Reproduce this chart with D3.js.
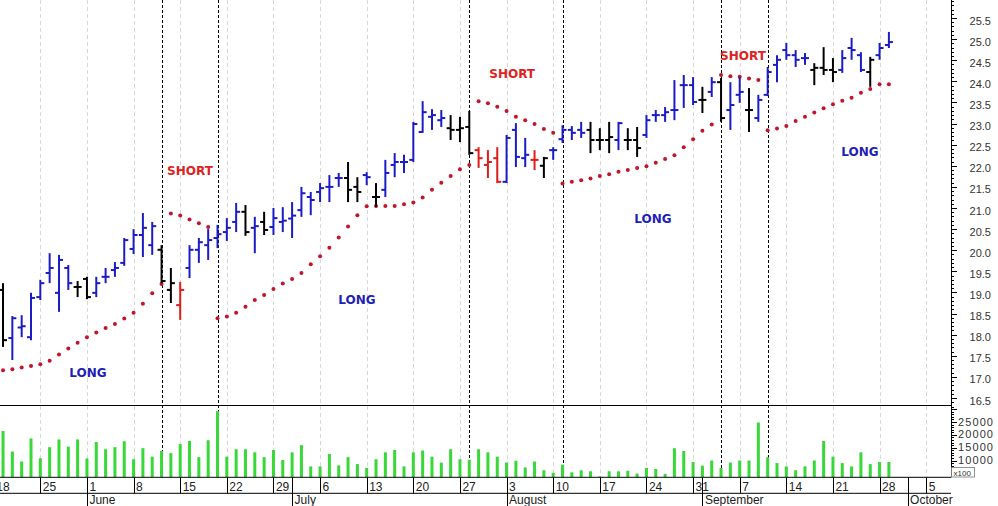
<!DOCTYPE html>
<html><head><meta charset="utf-8">
<script src="https://cdn.jsdelivr.net/npm/d3@7"></script>
<style>
body{margin:0;background:#fff}
svg{display:block}
text{font-family:Arial,"Liberation Sans",sans-serif}
.ann{font-family:"DejaVu Sans",Verdana,sans-serif;font-weight:bold;font-size:12px}
</style>
</head><body>
<svg id="chart" width="998" height="506"></svg>
<script>
// ---------------- DATA ----------------
const firstSession = "2009-05-19";
const lastSession  = "2009-09-29";
const axisStart    = "2009-05-18";
const axisEnd      = "2009-10-05";

const opens = [
19.06,17.92,18.17,17.94,18.89,19.46,18.99,19.58,19.13,19.32,
18.99,19.37,19.53,19.70,20.03,20.36,20.12,20.01,19.06,18.70,
19.58,20.01,20.12,20.29,20.43,20.67,20.91,20.53,20.67,20.55,
20.67,20.75,20.95,21.26,21.38,21.50,21.71,21.71,21.50,21.78,
21.26,21.43,22.02,22.09,22.14,22.80,23.16,23.08,22.89,22.85,
22.92,22.37,22.02,22.18,21.62,22.85,22.18,22.14,22.00,22.37,
22.63,22.85,22.85,22.85,22.61,22.61,22.61,22.61,22.61,22.73,
23.20,23.20,23.32,23.91,23.91,23.56,23.75,23.98,23.32,23.68,
23.32,23.13,23.68,24.39,24.74,24.62,24.55,24.27,24.32,24.27,
24.27,24.79,24.62,24.22,24.62,24.86];
const highs = [
19.22,18.44,18.46,18.99,19.30,19.93,19.89,19.65,19.27,19.37,
19.37,19.58,19.72,20.29,20.50,20.88,20.67,20.12,19.58,19.25,
20.12,20.29,20.50,20.60,20.76,21.12,21.07,20.79,20.91,21.00,
21.02,21.14,21.50,21.38,21.59,21.78,21.83,22.09,21.73,21.85,
21.59,22.14,22.30,22.26,23.04,23.53,23.34,23.32,23.20,23.16,
23.30,22.44,22.37,22.44,22.73,23.01,22.66,22.37,22.21,22.44,
22.96,22.94,23.04,23.04,22.89,23.04,23.04,22.89,22.92,23.20,
23.32,23.39,24.03,24.15,24.10,23.87,24.10,24.08,23.98,24.10,
23.84,23.68,24.34,24.62,24.91,24.74,24.67,24.43,24.81,24.55,
24.74,25.03,24.69,24.58,24.91,25.17];
const lows = [
17.71,17.40,17.94,17.87,18.82,19.22,18.54,19.06,18.89,18.84,
18.89,19.22,19.37,19.63,19.91,19.84,19.89,19.22,18.75,18.35,
19.34,19.70,19.77,20.05,20.22,20.43,20.34,19.93,20.36,20.36,
20.43,20.29,20.79,20.83,21.14,21.14,21.50,21.14,21.14,21.54,
21.02,21.26,21.73,21.83,22.09,22.78,22.85,22.92,22.61,22.56,
22.26,21.95,21.71,21.59,21.59,21.97,21.97,21.90,21.71,22.14,
22.54,22.61,22.66,22.30,22.37,22.30,22.37,22.37,22.21,22.66,
23.04,23.04,23.08,23.37,23.44,23.25,23.63,23.04,22.85,23.49,
22.80,23.04,23.65,23.98,24.51,24.34,24.39,23.91,24.15,23.98,
24.20,24.51,24.22,23.87,24.51,24.79];
const closes = [
17.87,18.39,18.20,18.87,19.22,19.58,19.77,19.22,19.13,18.89,
19.22,19.37,19.58,20.24,20.36,20.53,20.57,19.27,19.22,19.06,
20.01,20.19,20.24,20.38,20.53,20.91,20.43,20.57,20.48,20.76,
20.70,20.82,21.35,21.19,21.47,21.50,21.71,21.43,21.38,21.73,
21.26,21.83,22.09,22.09,22.99,23.27,23.20,23.13,22.85,22.89,
22.30,22.18,22.09,21.62,22.66,22.21,22.26,22.14,22.18,22.37,
22.85,22.78,22.78,22.61,22.61,22.68,23.01,22.61,22.42,23.08,
23.20,23.27,23.32,23.91,23.51,23.56,23.98,23.13,23.44,23.75,
23.32,23.56,24.22,24.51,24.62,24.51,24.55,24.32,24.27,24.22,
24.55,24.74,24.27,24.51,24.79,24.93];
// bar trend state: U = up (blue), D = down (red), N = neutral (black)
const barState = (
"NUUUUUUUNN"+"UUUUUUUNND"+"UUUUUUNUNU"+"UUUUUUUNNU"+"NUUUUUUUNN"+
"NDDDUUUDNU"+"UUUNNNUNNU"+"UUUUUNUNUU"+"NUUUUUUNNN"+"UUUNUU").split("");
const sar = [
17.16,17.18,17.22,17.26,17.30,17.38,17.53,17.67,17.81,17.94,
18.05,18.16,18.25,18.38,18.52,18.73,18.98,19.20,20.87,20.82,
20.73,20.64,20.55,18.39,18.43,18.52,18.66,18.82,18.94,19.08,
19.21,19.32,19.46,19.67,19.86,20.06,20.30,20.56,20.83,21.04,
21.05,21.05,21.05,21.09,21.13,21.25,21.43,21.60,21.76,21.92,
22.02,23.53,23.48,23.40,23.30,23.16,23.08,22.99,22.87,22.78,
21.58,21.62,21.66,21.70,21.76,21.80,21.86,21.90,21.95,21.99,
22.07,22.16,22.25,22.44,22.63,22.83,22.98,24.15,24.12,24.11,
24.07,24.03,22.84,22.88,22.94,23.06,23.16,23.26,23.36,23.46,
23.54,23.61,23.73,23.82,23.93,23.93];
const volume = [
21500,13500,9600,18600,10900,15200,18200,15400,18200,10800,
17200,14400,15200,17500,10500,14800,11500,13700,12900,16400,
17600,11300,17900,29200,11500,14400,14400,13200,11300,14100,
10200,13200,16000,7700,7700,12500,8100,11300,8600,7100,
10500,13200,14100,7700,13200,13900,11500,9200,14400,10500,
10300,14400,13200,11500,9200,9900,7300,9600,6200,5200,
8400,5400,6200,5800,3800,5800,5800,6000,4900,7100,
6700,4800,14800,13700,9400,8000,10000,7100,9200,10000,
10000,24800,11300,9000,7700,6200,7700,10000,17600,11500,
9000,7700,13200,8600,9400,9400];
const reversalDates = ["2009-06-11","2009-06-19","2009-07-28","2009-08-11","2009-09-03","2009-09-10"];
const annTexts    = ["LONG","SHORT","LONG","SHORT","LONG","SHORT","LONG"];
const annSession  = [10.1, 21.05, 38.96, 55.6, 70.7, 80.35, 92.9];   // session index from axisStart
const annPrice    = [17.09, 21.88, 18.82, 24.17, 20.74, 24.60, 22.33];
const priceLabels = d3.range(16.5, 25.51, 0.5);
const volumeLabels = [10000, 15000, 20000, 25000];

// ---------------- HELPERS ----------------
const parse = d3.timeParse("%Y-%m-%d");
const base = parse(axisStart);
function sessionIndex(d){ const days = d3.timeDay.count(base, d); return Math.floor(days/7)*5 + Math.min(days%7,5); }
const dates = d3.timeDay.range(parse(firstSession), d3.timeDay.offset(parse(lastSession),1))
  .filter(d => d.getDay()>0 && d.getDay()<6);
const bars = dates.map((d,i)=>({date:d, s:sessionIndex(d), o:opens[i], h:highs[i], l:lows[i], c:closes[i],
  st:barState[i], sar:sar[i], v:volume[i]}));

// ---------------- LAYOUT ----------------
const svg = d3.select("#chart");
const axisX = 951, priceBottom = 405, volBottom = 477.3, dayBottom = 493.3;
const x = d3.scaleLinear().domain([0,100]).range([-6.3, 926.2]);
const y = d3.scaleLinear().domain([16.5,25.5]).range([398,18]);
const yv = d3.scaleLinear().domain([10000,25000]).range([460.5,422]);
const colorOf = {U:"#1c1cc4", D:"#e01b1b", N:"#000"};

svg.append("defs").append("clipPath").attr("id","pclip").append("rect")
  .attr("x",0).attr("y",0).attr("width",axisX).attr("height",priceBottom);
svg.append("defs").append("clipPath").attr("id","vclip").append("rect")
  .attr("x",0).attr("y",priceBottom).attr("width",axisX).attr("height",volBottom-priceBottom);

const mondays = d3.timeMonday.range(base, d3.timeDay.offset(parse(axisEnd),1));
const monthStarts = d3.timeMonth.range(parse("2009-06-01"), d3.timeDay.offset(parse(axisEnd),1));
const px = d => Math.round(x(sessionIndex(d)))+0.5;

// gridlines
svg.append("g").selectAll("line").data(mondays).join("line")
  .attr("x1",px).attr("x2",px).attr("y1",0).attr("y2",volBottom)
  .attr("stroke","#d8d8d8").attr("stroke-dasharray","4,3").attr("stroke-width",1);

// reversal lines
svg.append("g").selectAll("line").data(reversalDates.map(parse)).join("line")
  .attr("x1",px).attr("x2",px).attr("y1",0).attr("y2",volBottom)
  .attr("stroke","#000").attr("stroke-dasharray","3,2").attr("stroke-width",1);

// price panel
const pg = svg.append("g").attr("clip-path","url(#pclip)");
pg.append("g").selectAll("circle").data(bars).join("circle")
  .attr("cx",d=>x(d.s)).attr("cy",d=>y(d.sar)).attr("r",2).attr("fill","#c4142b");
const bg = pg.append("g").selectAll("g").data(bars).join("g").attr("stroke",d=>colorOf[d.st]).attr("stroke-width",2);
bg.append("line").attr("x1",d=>x(d.s)).attr("x2",d=>x(d.s)).attr("y1",d=>y(d.h)).attr("y2",d=>y(d.l));
bg.append("line").attr("x1",d=>x(d.s)-4).attr("x2",d=>x(d.s)).attr("y1",d=>y(d.o)).attr("y2",d=>y(d.o));
bg.append("line").attr("x1",d=>x(d.s)).attr("x2",d=>x(d.s)+4).attr("y1",d=>y(d.c)).attr("y2",d=>y(d.c));

// annotations
svg.append("g").selectAll("text").data(annTexts).join("text").attr("class","ann")
  .attr("x",(d,i)=>x(annSession[i])).attr("y",(d,i)=>y(annPrice[i]))
  .attr("text-anchor","middle").attr("dominant-baseline","central")
  .attr("fill",d=>d==="LONG"?"#1f1fb8":"#dd2222").text(d=>d);

// volume panel
svg.append("g").attr("clip-path","url(#vclip)").selectAll("rect").data(bars).join("rect")
  .attr("x",d=>x(d.s)-1.5).attr("width",3)
  .attr("y",d=>yv(d.v)).attr("height",d=>Math.max(0,volBottom-yv(d.v)))
  .attr("fill","#38d838");

// frame lines
const fr = svg.append("g").attr("stroke","#000").attr("stroke-width",1);
fr.append("line").attr("x1",0).attr("x2",axisX).attr("y1",priceBottom+0.5).attr("y2",priceBottom+0.5);
fr.append("line").attr("x1",0).attr("x2",axisX).attr("y1",volBottom).attr("y2",volBottom);
fr.append("line").attr("x1",0).attr("x2",axisX).attr("y1",dayBottom).attr("y2",dayBottom);
fr.append("line").attr("x1",axisX+0.5).attr("x2",axisX+0.5).attr("y1",0).attr("y2",volBottom);

// price axis ticks
const minor = d3.range(16.4, 25.95, 0.1).map(v=>+v.toFixed(1));
svg.append("g").selectAll("line").data(minor).join("line")
  .attr("x1",axisX).attr("x2",d=>axisX + (Math.abs(d*2-Math.round(d*2))<1e-6 ? 6 : 3))
  .attr("y1",d=>Math.round(y(d))+0.5).attr("y2",d=>Math.round(y(d))+0.5).attr("stroke","#000");
svg.append("g").selectAll("text").data(priceLabels).join("text")
  .attr("x",991).attr("y",d=>y(d)+2.5).attr("dominant-baseline","central").attr("text-anchor","end")
  .attr("font-size",11).attr("fill","#333").text(d=>d3.format(".1f")(d));

// volume axis ticks
const vminor = d3.range(4000, 31001, 1000);
svg.append("g").selectAll("line").data(vminor).join("line")
  .attr("x1",axisX).attr("x2",d=>axisX + (d%5000===0 ? 6 : 3))
  .attr("y1",d=>Math.round(yv(d))+0.5).attr("y2",d=>Math.round(yv(d))+0.5).attr("stroke","#000");
svg.append("g").selectAll("text").data(volumeLabels).join("text")
  .attr("x",958).attr("y",d=>yv(d)-0.5).attr("dominant-baseline","central")
  .attr("font-size",11).attr("letter-spacing",1.1).attr("fill","#333").text(d=>d);
svg.append("rect").attr("x",951.5).attr("y",467.5).attr("width",23).attr("height",9.5)
  .attr("fill","#fff").attr("stroke","#777").attr("stroke-width",0.8);
svg.append("text").attr("x",953.5).attr("y",475.5).attr("font-size",8).attr("fill","#333").text("x100");

// date axis
svg.append("g").selectAll("line").data(mondays).join("line")
  .attr("x1",px).attr("x2",px).attr("y1",volBottom).attr("y2",dayBottom).attr("stroke","#000");
svg.append("g").selectAll("text").data(mondays).join("text")
  .attr("x",d=>x(sessionIndex(d))+2.5).attr("y",490.5).attr("font-size",12).attr("fill","#222")
  .text(d=>d.getDate());
svg.append("g").selectAll("line").data(monthStarts).join("line")
  .attr("x1",px).attr("x2",px).attr("y1",volBottom).attr("y2",506).attr("stroke","#000");
svg.append("g").selectAll("text").data(monthStarts).join("text")
  .attr("x",d=>x(sessionIndex(d))+2.5).attr("y",504).attr("font-size",12).attr("fill","#222")
  .text(d=>d3.timeFormat("%B")(d));
</script>
</body></html>
